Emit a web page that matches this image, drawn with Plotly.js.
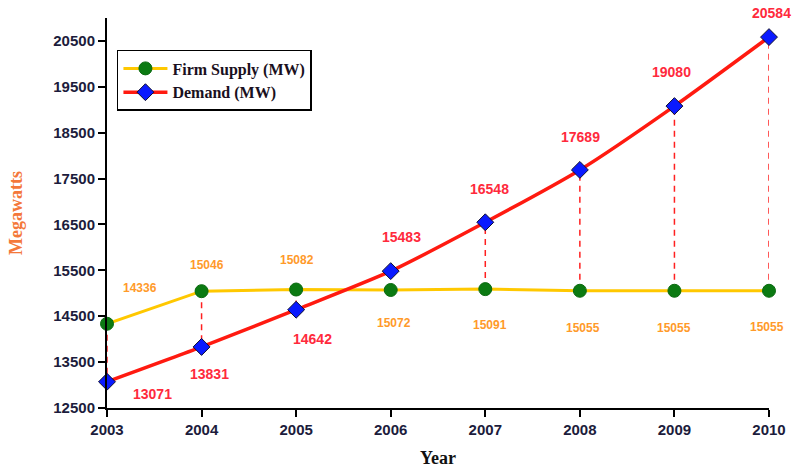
<!DOCTYPE html>
<html><head><meta charset="utf-8">
<script src="https://cdn.plot.ly/plotly-3.0.1.min.js"></script>
<style>html,body{margin:0;padding:0;background:#fff}#chart{width:805px;height:472px}</style>
</head><body><div id="chart"></div>
<script>
const years = [2003, 2004, 2005, 2006, 2007, 2008, 2009, 2010];
const firmSupply = [14336, 15046, 15082, 15072, 15091, 15055, 15055, 15055];
const demand = [13071, 13831, 14642, 15483, 16548, 17689, 19080, 20584];
const yTicks = [12500, 13500, 14500, 15500, 16500, 17500, 18500, 19500, 20500];

// label offsets (pixels, +y = up)
const supShift = [[33,36],[5,26],[1,30],[3,-33],[5,-36],[3,-37],[0,-37],[-2,-36]];
const demShift = [[45,-12],[8,-27],[16,-29],[11,34],[4,33],[1,33],[-3,34],[2,24]];

const dx = [], dy = [];
years.forEach((yr, i) => { dx.push(yr, yr, null); dy.push(firmSupply[i], demand[i], null); });

const traces = [
  {x: dx, y: dy, mode: 'lines', line: {color: '#ff2020', width: 1.5, dash: '6px,5px'},
   showlegend: false, hoverinfo: 'skip', cliponaxis: false},
  {x: years, y: firmSupply, name: 'Firm Supply (MW)', mode: 'lines+markers',
   line: {color: '#ffc800', width: 3},
   marker: {symbol: 'circle', size: 13, color: '#0b7a12', line: {color: '#0b6a10', width: 1}},
   cliponaxis: false},
  {x: years, y: demand, name: 'Demand (MW)', mode: 'lines+markers',
   line: {color: '#ff1a10', width: 3.5, shape: 'spline', smoothing: 0.6},
   marker: {symbol: 'diamond', size: 13, color: '#0a1aff', line: {color: '#101030', width: 1}},
   cliponaxis: false}
];

const annotations = [];
years.forEach((yr, i) => {
  annotations.push({x: yr, y: firmSupply[i], text: '<b>' + firmSupply[i] + '</b>', showarrow: false,
    xshift: supShift[i][0], yshift: supShift[i][1],
    font: {family: 'Liberation Sans, Arial, sans-serif', size: 12, color: '#ff9a2a'}});
  annotations.push({x: yr, y: demand[i], text: '<b>' + demand[i] + '</b>', showarrow: false,
    xshift: demShift[i][0], yshift: demShift[i][1],
    font: {family: 'Liberation Sans, Arial, sans-serif', size: 14, color: '#ff2a3c'}});
});

const layout = {
  width: 805, height: 472,
  margin: {l: 107, r: 36, t: 18, b: 64},
  paper_bgcolor: '#fff', plot_bgcolor: '#fff',
  showlegend: true,
  legend: {x: 0.015, y: 0.918, xanchor: 'left', yanchor: 'top',
    bordercolor: '#000', borderwidth: 1.5, bgcolor: '#fff',
    font: {family: 'Liberation Serif, Times New Roman, serif', size: 16, color: '#1a1020', weight: 'bold'},
    tracegroupgap: 4, itemwidth: 44},
  xaxis: {range: [2003, 2010], tickvals: years, ticktext: years.map(String),
    showgrid: false, zeroline: false, showline: true, linecolor: '#000', linewidth: 2,
    ticks: 'outside', ticklen: 7, tickwidth: 2, tickcolor: '#000',
    tickfont: {family: 'Liberation Sans, Arial, sans-serif', size: 15, color: '#1c1c3c', weight: 'bold'},
    title: {text: '<b>Year</b>', standoff: 14,
      font: {family: 'Liberation Serif, Times New Roman, serif', size: 18, color: '#111'}}},
  yaxis: {range: [12500, 21000], tickvals: yTicks, ticktext: yTicks.map(String),
    showgrid: false, zeroline: false, showline: true, linecolor: '#000', linewidth: 2,
    ticks: 'outside', ticklen: 7, tickwidth: 2, tickcolor: '#000',
    tickfont: {family: 'Liberation Sans, Arial, sans-serif', size: 15, color: '#1c1c3c', weight: 'bold'},
    title: {text: '<b>Megawatts</b>', standoff: 26,
      font: {family: 'Liberation Serif, Times New Roman, serif', size: 18, color: '#f4783a'}}},
  annotations: annotations
};

Plotly.newPlot('chart', traces, layout, {displayModeBar: false, staticPlot: true});
</script></body></html>
